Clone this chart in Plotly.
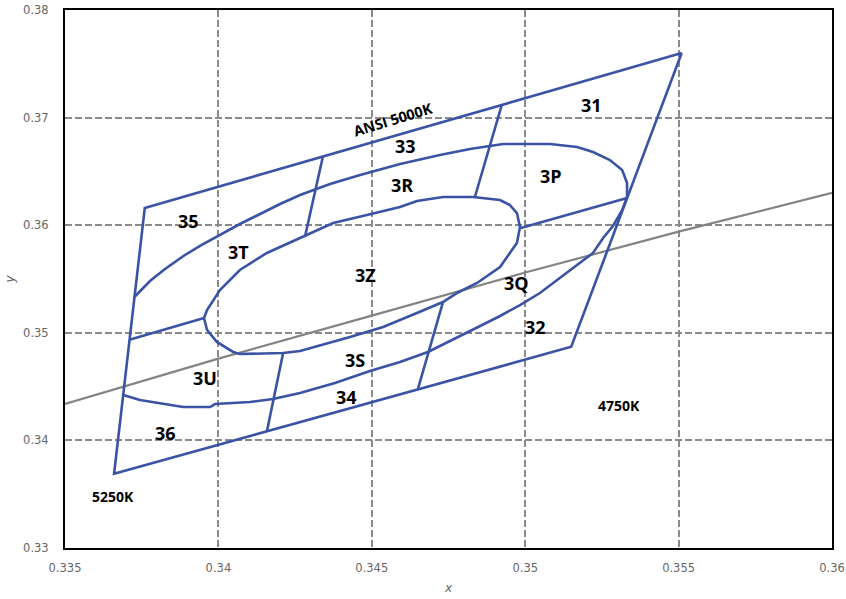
import plotly.graph_objects as go

# ---------------- data (CIE x, y) ----------------
quad_x = [0.3551, 0.3376, 0.3366, 0.3515, 0.3551]
quad_y = [0.3760, 0.3616, 0.3369, 0.3487, 0.3760]

locus_x = [0.335, 0.340, 0.345, 0.350, 0.355, 0.360]
locus_y = [0.3434, 0.3476, 0.3516, 0.3556, 0.3594, 0.3630]

ring_x = [0.33726, 0.33777, 0.33826, 0.33891, 0.33940, 0.33999, 0.34070, 0.34136,
          0.34201, 0.34266, 0.34364, 0.34462, 0.34592, 0.34722, 0.34820, 0.34885,
          0.34928, 0.35081, 0.35169, 0.35221, 0.35276, 0.35316, 0.35332, 0.35332,
          0.35316, 0.35286, 0.35254, 0.35221, 0.35156, 0.35113, 0.35048, 0.34983,
          0.34918, 0.34853, 0.34788, 0.34722, 0.34683, 0.34592, 0.34494, 0.34380,
          0.34266, 0.34178, 0.34103, 0.33989, 0.33973, 0.33885, 0.33744, 0.33690]
ring_y = [0.35333, 0.35481, 0.35593, 0.35723, 0.35807, 0.35900, 0.36011, 0.36104,
          0.36197, 0.36281, 0.36383, 0.36467, 0.36569, 0.36652, 0.36708, 0.36736,
          0.36755, 0.36755, 0.36727, 0.36680, 0.36606, 0.36513, 0.36392, 0.36262,
          0.36141, 0.35993, 0.35881, 0.35742, 0.35602, 0.35509, 0.35370, 0.35258,
          0.35156, 0.35063, 0.34970, 0.34877, 0.34822, 0.34729, 0.34645, 0.34533,
          0.34441, 0.34385, 0.34357, 0.34338, 0.34310, 0.34310, 0.34375, 0.34422]

inner_x = [0.33953, 0.33963, 0.34005, 0.34070, 0.34158, 0.34266, 0.34374, 0.34484,
           0.34592, 0.34647, 0.34732, 0.34830, 0.34918, 0.34950, 0.34973, 0.34983,
           0.34973, 0.34918, 0.34843, 0.34778, 0.34732, 0.34647, 0.34537, 0.34429,
           0.34266, 0.34211, 0.34070, 0.34048, 0.33995, 0.33963, 0.33953]
inner_y = [0.35138, 0.35212, 0.35398, 0.35584, 0.35742, 0.35881, 0.36020, 0.36095,
           0.36169, 0.36225, 0.36262, 0.36262, 0.36234, 0.36188, 0.36113, 0.35983,
           0.35835, 0.35612, 0.35463, 0.35370, 0.35286, 0.35184, 0.35054, 0.34961,
           0.34831, 0.34812, 0.34803, 0.34822, 0.34915, 0.35026, 0.35138]

# divider segments: (x0, y0) -> (x1, y1)
div_x0 = [0.34341, 0.34924, 0.34986, 0.34732, 0.34211, 0.33953]
div_y0 = [0.36643, 0.37120, 0.35974, 0.35286, 0.34812, 0.35138]
div_x1 = [0.34282, 0.34836, 0.35332, 0.34650, 0.34158, 0.33710]
div_y1 = [0.35890, 0.36262, 0.36253, 0.34475, 0.34082, 0.34935]

bin_names = ["31", "33", "3R", "3P", "35", "3T", "3Z", "3Q", "32", "3S", "3U", "34", "36"]
bin_x = [0.35215, 0.34611, 0.34598, 0.35084, 0.33901, 0.34064, 0.34481, 0.34973,
         0.35032, 0.34445, 0.33956, 0.34416, 0.33826]
bin_y = [0.37117, 0.36736, 0.36374, 0.36457, 0.36039, 0.35751, 0.35537, 0.35463,
         0.35054, 0.34747, 0.34580, 0.34403, 0.34069]

note_texts = ["4750K", "5250K"]
note_x = [0.35306, 0.33657]
note_y = [0.34320, 0.33483]

title_text = "ANSI 5000K"
title_x, title_y = 0.34569, 0.36987

x_ticks = [0.335, 0.34, 0.345, 0.35, 0.355, 0.36]
x_tick_labels = ["0.335", "0.34", "0.345", "0.35", "0.355", "0.36"]
y_ticks = [0.33, 0.34, 0.35, 0.36, 0.37, 0.38]
y_tick_labels = ["0.33", "0.34", "0.35", "0.36", "0.37", "0.38"]

# ---------------- styles ----------------
BLUE = "#3A53A4"
GRAY = "#848484"
LW = 2.6

fig = go.Figure()

fig.add_trace(go.Scatter(x=locus_x, y=locus_y, mode="lines",
                         line=dict(color=GRAY, width=2.2), hoverinfo="skip"))
fig.add_trace(go.Scatter(x=quad_x, y=quad_y, mode="lines",
                         line=dict(color=BLUE, width=LW), hoverinfo="skip"))
fig.add_trace(go.Scatter(x=ring_x, y=ring_y, mode="lines",
                         line=dict(color=BLUE, width=LW), hoverinfo="skip"))
fig.add_trace(go.Scatter(x=inner_x, y=inner_y, mode="lines",
                         line=dict(color=BLUE, width=LW), hoverinfo="skip"))
for a, b, c, d in zip(div_x0, div_y0, div_x1, div_y1):
    fig.add_trace(go.Scatter(x=[a, c], y=[b, d], mode="lines",
                             line=dict(color=BLUE, width=LW), hoverinfo="skip"))

LABEL_FONT = dict(family="Open Sans", size=18, color="black", weight="bold")
for t, x, y in zip(bin_names, bin_x, bin_y):
    fig.add_annotation(x=x, y=y, text=t, showarrow=False, font=LABEL_FONT)

for t, x, y in zip(note_texts, note_x, note_y):
    fig.add_annotation(x=x, y=y, text=t, showarrow=False,
                       font=dict(family="Open Sans", size=14, color="black", weight="bold"))

fig.add_annotation(x=title_x, y=title_y, text=title_text, showarrow=False, textangle=-17,
                   font=dict(family="Open Sans", size=14.5, color="black", weight="bold"))

AXIS_FONT = dict(family="DejaVu Sans", size=11.5, color="#666666")
common = dict(showline=True, linecolor="black", linewidth=2, mirror=True,
              showgrid=True, gridcolor="#8A8A8A", gridwidth=1.5, griddash="7px,3px",
              zeroline=False, ticks="", tickfont=AXIS_FONT, automargin=False)

fig.update_xaxes(range=[0.335, 0.36], tickvals=x_ticks, ticktext=x_tick_labels,
                 ticklabelstandoff=8,
                 title=dict(text="<i>x</i>", font=dict(family="DejaVu Sans", size=12, color="#666666"),
                            standoff=10),
                 **common)
fig.update_yaxes(range=[0.33, 0.38], tickvals=y_ticks, ticktext=y_tick_labels,
                 ticklabelstandoff=12,
                 title=dict(text="<i>y</i>", font=dict(family="DejaVu Sans", size=12, color="#666666"),
                            standoff=6),
                 **common)

fig.update_layout(width=846, height=599, autosize=False,
                  margin=dict(l=65, r=14, t=10, b=51),
                  plot_bgcolor="white", paper_bgcolor="white",
                  showlegend=False)

fig.write_html("out.html", config={"displayModeBar": False},
               post_script="document.body.style.margin='0px'; document.body.style.overflow='hidden';")
